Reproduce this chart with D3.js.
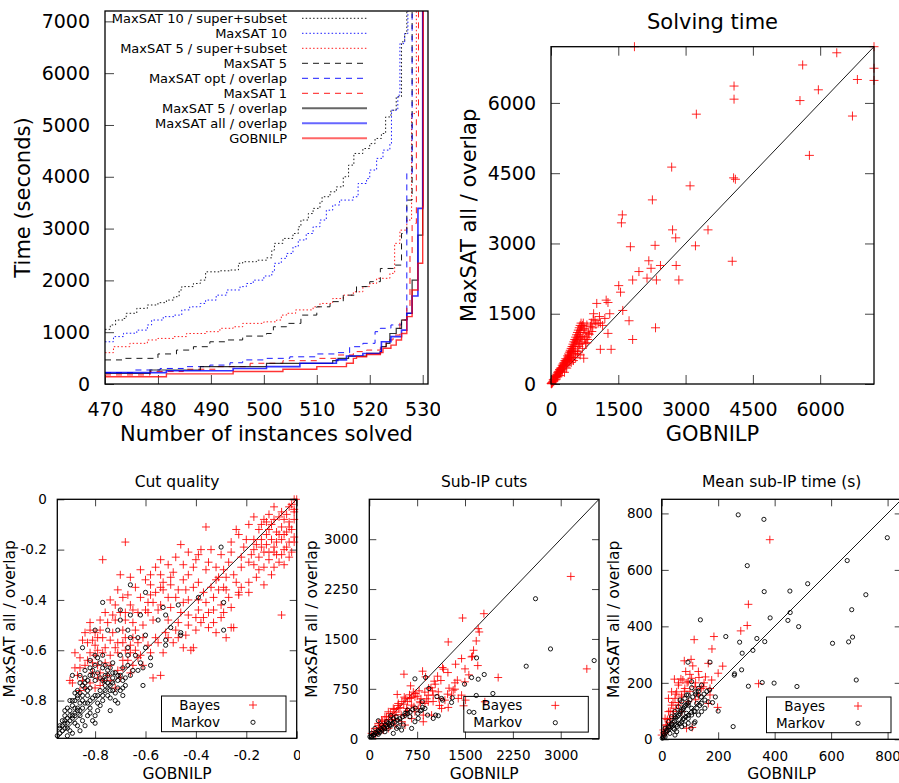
<!DOCTYPE html>
<html><head><meta charset="utf-8">
<script src="https://cdn.jsdelivr.net/npm/d3@7"></script>
<style>
body{margin:0;background:#fff}
svg{font-family:"DejaVu Sans",sans-serif}
</style></head><body>
<svg id="chart" width="899" height="783"></svg>
<script>
// ---- cactus plot: [instances solved, time] ----
var ms10ss = [[470,1055],[471,1140],[472,1235],[473.5,1265],[474,1365],[476,1460],[478,1525],[480,1570],[481.6,1620],[483,1685],[484,1815],[484.5,1880],[486.7,1940],[488,2005],[489,2165],[491.7,2185],[493.6,2200],[495.2,2330],[496,2360],[498.6,2390],[500.5,2435],[501.5,2585],[502,2715],[503.6,2810],[505.5,2905],[506.5,3035],[507,3165],[508.4,3290],[509.3,3390],[510.6,3515],[511,3615],[512.5,3710],[513.7,3805],[515,4000],[516,4225],[517,4450],[518.7,4545],[520,4640],[521,4740],[522.2,4835],[523,5155],[524,5285],[525,5545],[526,6605],[526.6,6765],[527,7200]];
var ms10 = [[470,815],[471.6,915],[473.5,980],[476,1040],[478,1140],[478.8,1235],[481,1300],[483,1330],[484.5,1430],[486,1490],[488,1555],[489,1620],[491,1715],[493,1815],[495.5,1880],[496.7,1940],[498,2005],[500,2085],[501.5,2165],[502,2330],[503.3,2425],[504.3,2520],[505.5,2650],[506.5,2780],[508,2905],[509.3,3035],[510.6,3165],[511.8,3355],[513,3455],[514.3,3550],[516.9,3615],[517.8,3870],[519.4,3965],[520,4130],[521.3,4355],[522.5,4515],[523.8,4640],[524.1,5285],[525.3,5575],[525.7,6570],[526.6,6765],[527.2,7200]];
var ms5ss = [[470,605],[471.6,720],[474.7,785],[478,850],[480,880],[483,915],[485.4,975],[489,1010],[491.7,1075],[494.2,1105],[496,1170],[500,1200],[502.4,1235],[503.3,1330],[504.3,1365],[506,1430],[509.3,1490],[510.6,1555],[513,1650],[515,1715],[516.9,1780],[518.7,1880],[520,1940],[521.3,2040],[523.8,2135],[524.7,2715],[525.7,2970],[527,3165],[527.9,5220],[528.8,7200]];
var ms5 = [[470,465],[473.5,495],[480,580],[483.5,655],[486.7,720],[489.8,815],[492.9,850],[496,925],[500.5,975],[501.8,1105],[504.3,1170],[507,1330],[510,1490],[512.5,1590],[515,1715],[517.5,1880],[520,1975],[522,2230],[524.7,2295],[526,2905],[527,3550],[528,7200]];
var msOpt = [[470,220],[475.3,270],[480.4,300],[484.8,335],[489.8,365],[493.6,410],[496,465],[500.5,495],[504.9,525],[510,580],[513.7,605],[516.2,720],[518.7,785],[521,1010],[522,1075],[524,1140],[526,1235],[527,4065],[528,7200]];
var ms1 = [[470,175],[478.5,240],[484.8,285],[491,335],[497.4,400],[503.6,450],[510,495],[513.7,560],[516.9,625],[519.4,655],[522,720],[523.1,850],[524.4,945],[525.7,1235],[527,1490],[527.6,2520],[528,3100],[528.8,5155],[529.2,7200]];
var ms5ov = [[470,205],[478.5,270],[488,335],[500.5,400],[513,450],[514,495],[516,540],[519.4,590],[522,625],[522.2,720],[523.1,785],[523.8,975],[525,1075],[526,1235],[527,1365],[528,2005],[529.1,2875],[530,7200]];
var msAll = [[470,220],[481.6,255],[494.2,300],[500.5,335],[506.8,400],[513.7,465],[515.6,540],[518.7,590],[522,625],[522.2,815],[524,915],[526,1040],[527,1365],[528,1700],[529.1,3390],[530,7200]];
var gob = [[470,140],[481.6,195],[494.2,240],[503.6,285],[510,335],[515.6,400],[516.9,495],[517.5,525],[519.4,570],[522,605],[522.5,690],[524,750],[525,850],[526,975],[527,1300],[528,1815],[529.1,2330],[530,3420],[530.1,7200]];
var cactusNames = ["MaxSAT 10 / super+subset","MaxSAT 10","MaxSAT 5 / super+subset","MaxSAT 5","MaxSAT opt / overlap","MaxSAT 1","MaxSAT 5 / overlap","MaxSAT all / overlap","GOBNILP"];
var cactusData = [ms10ss, ms10, ms5ss, ms5, msOpt, ms1, ms5ov, msAll, gob];
var cactusXTicks = [470,480,490,500,510,520,530];
var cactusYTicks = [0,1000,2000,3000,4000,5000,6000,7000];

// ---- solving time: [GOBNILP, MaxSAT all / overlap] ----
var solveTime = [[1860,7200],[7200,7200],[6370,7070],[5610,6810],[7200,6740],[4080,6360],[6830,6500],[7200,6480],[4080,6080],[5550,6050],[5960,6280],[3240,5760],[6720,5720],[5760,4880],[2690,4630],[4070,4400],[4110,4370],[3100,4230],[2260,3930],[1590,3610],[1570,3440],[2710,3290],[3500,3290],[2780,3120],[1770,2930],[2320,2960],[3220,2950],[4040,2620],[2180,2630],[1960,2400],[2230,2470],[2440,2530],[2790,2530],[1820,2220],[2140,2260],[2350,2220],[2850,2220],[1510,2100],[1550,1960],[1230,1790],[1270,1740],[1020,1720],[1310,1500],[1600,1570],[950,1500],[1080,1440],[1740,1350],[1050,1300],[1270,1080],[2330,1200],[1820,950],[1100,740],[1340,740],
  [800,1260],[730,1150],[840,1080],[910,1120],[650,1010],[580,940],[770,870],[620,800],[730,550],[500,690],[430,580],[360,480],[280,370],[210,260],[130,160],[60,50],
  [20,30],[40,50],[60,80],[80,110],[100,140],[120,160],[140,200],[160,230],[180,250],[200,290],[220,320],[240,350],[260,380],[280,400],[300,430],[320,470],[340,500],[360,520],[380,560],[400,600],[420,620],[440,680],[460,700],[480,750],[500,800],[520,830],[540,880],[560,920],[580,960],[600,1000],[620,1050],[640,1100],[660,1150],[680,1220],[700,1250],[720,1300],[750,1180],[780,1100],[800,1000],[820,950],[850,1060],[880,1230],[900,1300],[930,1200],[150,150],[250,260],[350,340],[450,460],[550,560],[650,620],[300,250],[200,180],[100,90],[5,10],[10,5],[30,20],[90,150],[170,270],[230,300],[330,420],[410,520],[470,560],[530,650],[590,700],[630,860],[690,900],[710,1020],[670,980],
  [50,90],[70,100],[110,180],[130,210],[150,250],[190,310],[210,340],[250,400],[270,430],[290,460],[310,500],[330,540],[370,600],[390,640],[410,680],[430,720],[450,760],[470,800],[490,850],[510,900],[530,950],[550,1000],[570,1050],[590,1100],[610,1150],[630,1200],[650,1250],[670,1300],[400,430],[500,500],[600,640],[700,760],[800,880],[450,550],[350,400],[250,300],[150,170],[550,700],[650,850],[750,950],[1000,1280],[1100,1300],[1150,1250],[1200,1400],[980,1350],[940,1380]];
var solveTicks = [0,1500,3000,4500,6000];

// ---- cut quality ----
var cutBayes = [[-0.01,0],[0,0],[-0.03,-0.03],[-0.01,-0.04],[-0.09,-0.03],[-0.06,-0.05],[-0.01,-0.05],[-0.11,-0.06],[-0.17,-0.07],[-0.13,-0.08],[-0.09,-0.08],[-0.05,-0.08],[-0.03,-0.09],[-0.01,-0.08],[-0.14,-0.10],[-0.10,-0.10],[-0.06,-0.11],[-0.03,-0.11],[-0.11,-0.12],[-0.08,-0.13],[-0.05,-0.14],[-0.01,-0.15],[-0.17,-0.16],[-0.14,-0.16],[-0.10,-0.16],[-0.06,-0.16],[-0.03,-0.17],[-0.01,-0.17],[-0.12,-0.18],[-0.09,-0.19],[-0.05,-0.20],[-0.17,-0.20],[-0.13,-0.21],[-0.09,-0.21],[-0.06,-0.22],[-0.03,-0.23],[-0.15,-0.23],[-0.11,-0.24],[-0.07,-0.25],[-0.05,-0.26],[-0.09,-0.27],[-0.17,-0.26],[-0.18,-0.22],[-0.21,-0.19],[-0.24,-0.12],[-0.23,-0.14],[-0.36,-0.11],[-0.68,-0.17],[-0.06,-0.46],[-0.13,-0.34],[-0.19,-0.37],[-0.23,-0.37],
  [-0.27,-0.25],[-0.32,-0.27],[-0.30,-0.22],[-0.31,-0.31],[-0.35,-0.25],[-0.39,-0.22],[-0.43,-0.21],[-0.46,-0.18],[-0.48,-0.23],[-0.54,-0.24],[-0.40,-0.24],[-0.38,-0.20],[-0.34,-0.20],[-0.26,-0.21],[-0.22,-0.27],[-0.25,-0.30],[-0.29,-0.35],[-0.34,-0.35],[-0.39,-0.33],[-0.43,-0.30],[-0.45,-0.32],[-0.49,-0.29],[-0.50,-0.34],[-0.53,-0.36],[-0.58,-0.38],[-0.59,-0.41],[-0.60,-0.44],[-0.63,-0.45],[-0.66,-0.42],[-0.69,-0.39],[-0.72,-0.42],[-0.76,-0.45],[-0.77,-0.24],[-0.70,-0.30],[-0.66,-0.31],[-0.62,-0.28],[-0.58,-0.30],[-0.54,-0.30],[-0.58,-0.34],[-0.54,-0.35],[-0.54,-0.42],[-0.51,-0.39],[-0.48,-0.39],[-0.45,-0.41],[-0.43,-0.40],[-0.39,-0.40],[-0.36,-0.41],[-0.33,-0.44],[-0.30,-0.42],[-0.27,-0.39],[-0.23,-0.38],[-0.24,-0.33],[-0.22,-0.35],[-0.19,-0.33],[-0.16,-0.31],[-0.28,-0.36],[-0.40,-0.47],[-0.37,-0.47],[-0.43,-0.46],[-0.47,-0.49],[-0.51,-0.48],[-0.55,-0.44],[-0.59,-0.45],[-0.65,-0.49],[-0.68,-0.48],[-0.70,-0.45],[-0.72,-0.48],[-0.75,-0.49],[-0.78,-0.52],[-0.80,-0.53],[-0.82,-0.52],[-0.84,-0.53],[-0.85,-0.56],[-0.83,-0.57],[-0.81,-0.56],[-0.79,-0.55],[-0.77,-0.55],[-0.74,-0.56],[-0.71,-0.57],[-0.68,-0.55],[-0.65,-0.55],[-0.63,-0.57],[-0.61,-0.55],[-0.56,-0.55],[-0.52,-0.53],[-0.48,-0.52],[-0.44,-0.54],[-0.40,-0.52],[-0.35,-0.51],[-0.32,-0.53],[-0.28,-0.55],[-0.26,-0.51],[-0.25,-0.51],[-0.42,-0.60],[-0.41,-0.59],[-0.45,-0.59],[-0.49,-0.57],[-0.53,-0.61],[-0.58,-0.61],[-0.62,-0.62],[-0.66,-0.61],[-0.68,-0.60],[-0.71,-0.61],[-0.74,-0.62],[-0.77,-0.61],[-0.80,-0.62],[-0.82,-0.61],[-0.86,-0.63],[-0.84,-0.66],[-0.81,-0.65],[-0.79,-0.66],[-0.76,-0.65],[-0.74,-0.66],[-0.71,-0.68],[-0.69,-0.67],[-0.67,-0.64],[-0.66,-0.69],[-0.61,-0.66],[-0.54,-0.70],[-0.57,-0.71],[-0.75,-0.70],[-0.77,-0.72],[-0.79,-0.71],[-0.82,-0.73],[-0.85,-0.72],[-0.87,-0.70],[-0.89,-0.73],[-0.84,-0.75],[-0.80,-0.75],[-0.72,-0.75],[-0.69,-0.64],[-0.78,-0.69],[-0.88,-0.61],
  [-0.02,-0.02],[-0.04,-0.06],[-0.07,-0.07],[-0.12,-0.09],[-0.15,-0.12],[-0.02,-0.12],[-0.07,-0.14],[-0.12,-0.14],[-0.16,-0.18],[-0.04,-0.19],[-0.08,-0.17],[-0.14,-0.19],[-0.11,-0.21],[-0.02,-0.21],[-0.19,-0.25],[-0.13,-0.27],[-0.15,-0.28],[-0.10,-0.30],[-0.08,-0.22],[-0.04,-0.13],[-0.20,-0.16],[-0.19,-0.10],[-0.26,-0.17],[-0.22,-0.23],[-0.29,-0.28],[-0.36,-0.28],[-0.41,-0.27],[-0.45,-0.26],[-0.51,-0.26],[-0.56,-0.27],[-0.60,-0.32],[-0.64,-0.35],[-0.67,-0.38],[-0.71,-0.36],[-0.74,-0.40],[-0.62,-0.39],[-0.56,-0.37],[-0.47,-0.36],[-0.41,-0.35],[-0.37,-0.37],[-0.33,-0.39],[-0.31,-0.36],[-0.26,-0.43],[-0.35,-0.45],[-0.39,-0.44],[-0.46,-0.45],[-0.50,-0.43],[-0.57,-0.48],[-0.61,-0.50],[-0.64,-0.52],[-0.69,-0.52],[-0.73,-0.53],[-0.76,-0.59],[-0.79,-0.60],[-0.83,-0.64],[-0.86,-0.67],[-0.81,-0.69],[-0.74,-0.72],[-0.70,-0.71],[-0.65,-0.66],[-0.63,-0.63],[-0.59,-0.58],[-0.55,-0.57],[-0.51,-0.55],[-0.47,-0.55],[-0.43,-0.50],[-0.38,-0.49],[-0.33,-0.49],[-0.30,-0.47],[-0.29,-0.45],[-0.32,-0.32],[-0.28,-0.31],[-0.44,-0.36],[-0.50,-0.31],[-0.53,-0.33],[-0.57,-0.41],[-0.65,-0.44],[-0.68,-0.45],[-0.73,-0.46],[-0.78,-0.48],[-0.82,-0.49],[-0.80,-0.58],[-0.72,-0.59],[-0.69,-0.57],[-0.66,-0.58],[-0.64,-0.60],[-0.88,-0.67],[-0.90,-0.72],[-0.86,-0.76],[-0.78,-0.74]];
var cutMarkov = [[-0.30,-0.19],[-0.39,-0.39],[-0.29,-0.41],[-0.29,-0.52],[-0.66,-0.34],[-0.60,-0.37],[-0.77,-0.41],[-0.70,-0.44],[-0.66,-0.46],[-0.70,-0.48],[-0.62,-0.46],[-0.55,-0.48],[-0.53,-0.43],[-0.52,-0.46],[-0.47,-0.42],[-0.50,-0.51],[-0.60,-0.54],[-0.66,-0.55],[-0.63,-0.55],[-0.46,-0.53],[-0.46,-0.54],[-0.52,-0.56],[-0.52,-0.58],[-0.60,-0.59],[-0.58,-0.63],[-0.62,-0.65],[-0.61,-0.67],[-0.58,-0.66],[-0.61,-0.74],[-0.67,-0.59],[-0.67,-0.62],[-0.74,-0.67],[-0.73,-0.65],[-0.85,-0.59],[-0.80,-0.62],[-0.80,-0.52],[-0.75,-0.52],[-0.71,-0.52],[-0.67,-0.52],[-0.77,-0.62],[-0.78,-0.65],[-0.82,-0.67],[-0.75,-0.70],[-0.71,-0.70],[-0.69,-0.67],[-0.68,-0.74],[-0.69,-0.78],[-0.72,-0.80],[-0.74,-0.84],[-0.80,-0.89],[-0.82,-0.85],[-0.78,-0.82],[-0.75,-0.78],[-0.79,-0.78],[-0.82,-0.75],[-0.84,-0.75],[-0.87,-0.76],[-0.89,-0.70],[-0.89,-0.80],[-0.91,-0.83],[-0.92,-0.86],[-0.93,-0.88],[-0.94,-0.91],[-0.92,-0.91],[-0.90,-0.88],[-0.88,-0.86],[-0.87,-0.83],[-0.86,-0.81],[-0.83,-0.78],[-0.80,-0.72],[-0.77,-0.72],[-0.73,-0.73],[-0.71,-0.72],[-0.76,-0.70],[-0.81,-0.70],[-0.84,-0.81],[-0.86,-0.84],[-0.88,-0.89],[-0.90,-0.92],[-0.91,-0.89],[-0.89,-0.86],[-0.87,-0.79],[-0.85,-0.78],[-0.83,-0.81],[-0.81,-0.79],[-0.79,-0.81],[-0.77,-0.78],[-0.74,-0.76],[-0.71,-0.75],[-0.69,-0.75],[-0.72,-0.69],[-0.83,-0.86],[-0.86,-0.86],[-0.88,-0.83],[-0.90,-0.86],[-0.92,-0.88],[-0.94,-0.93],[-0.93,-0.90],[-0.86,-0.73],[-0.84,-0.71],[-0.73,-0.71],[-0.70,-0.62],[-0.76,-0.66],[-0.80,-0.66],[-0.78,-0.76],[-0.76,-0.74],[-0.82,-0.83],[-0.80,-0.86],[-0.85,-0.88],[-0.87,-0.90],
  [-0.93,-0.92],[-0.92,-0.89],[-0.91,-0.87],[-0.90,-0.84],[-0.89,-0.82],[-0.88,-0.80],[-0.87,-0.78],[-0.86,-0.77],[-0.85,-0.74],[-0.84,-0.73],[-0.83,-0.72],[-0.82,-0.70],[-0.81,-0.68],[-0.79,-0.69],[-0.78,-0.71],[-0.76,-0.72],[-0.75,-0.73],[-0.74,-0.74],[-0.73,-0.76],[-0.72,-0.77],[-0.83,-0.76],[-0.85,-0.80],[-0.87,-0.84],[-0.89,-0.87],[-0.91,-0.91],[-0.94,-0.90],[-0.92,-0.84],[-0.90,-0.80],[-0.88,-0.77],[-0.86,-0.70],[-0.84,-0.68],[-0.82,-0.64],[-0.79,-0.63],[-0.77,-0.67],[-0.75,-0.68],[-0.73,-0.69],[-0.70,-0.70],[-0.68,-0.71],[-0.66,-0.70],[-0.65,-0.68],[-0.70,-0.76],[-0.77,-0.80],[-0.79,-0.84],[-0.81,-0.88],[-0.84,-0.90],[-0.86,-0.92],[-0.89,-0.93],[-0.91,-0.94],[-0.95,-0.94],[-0.80,-0.78],[-0.82,-0.80],[-0.85,-0.83],[-0.88,-0.85],[-0.76,-0.76],[-0.74,-0.79],[-0.71,-0.81],[-0.69,-0.72],[-0.67,-0.66],[-0.63,-0.68],[-0.64,-0.62]];
var cutTicks = [-0.8,-0.6,-0.4,-0.2,0];

// ---- sub-IP cuts ----
var cutsBayes = [[3158,2440],[3409,1050],[1796,1880],[1462,1815],[1707,1655],[1723,1605],[1237,1455],[1676,1470],[1634,1330],[1618,1240],[1446,1205],[1352,1120],[1148,1070],[1164,1045],[1232,995],[543,970],[835,1015],[882,930],[647,795],[1070,940],[1122,875],[1018,865],[1034,820],[966,765],[2020,920],[1342,840],[1342,745],[1498,855],[1446,655],[1603,1230],[1509,580],[1477,495],[1237,470],[1185,580],[1289,655],[1091,605],[1002,655],[924,555],[793,555],[715,630],[637,605],[438,665],[548,625],[376,455],[454,530],[585,455],[715,405],[846,355],[976,355],[559,355],[402,355],[298,405],[245,330],[193,280],[141,230],[89,155],[350,280],[506,255],[663,305],[846,255],[454,455],[663,505],[767,455],[872,530],[924,655],[1081,705],[1227,670],[1133,455],[1315,730],[1394,605],[245,205],[402,205],[559,205],[167,155],[298,155],[37,80],[115,105],[219,130],[1811,555],
  [60,60],[120,110],[180,170],[240,230],[300,290],[360,350],[420,400],[480,470],[540,520],[600,560],[660,620],[720,680],[780,720],[150,200],[210,260],[270,330],[330,380],[390,440],[450,500],[510,560],[570,600],[630,660],[690,700],[750,640],[810,600],[870,700],[930,760],[990,720],[100,60],[200,140],[300,210],[400,290],[500,360],[600,420],[700,480],[800,540],[900,600],[1000,560],[1100,500],[1250,760],[1380,880],[1560,960],[1700,1100],[1500,1050]];
var cutsMarkov = [[2605,2105],[2840,1350],[3524,1175],[2459,1090],[1681,1215],[1801,965],[1603,920],[1707,895],[1937,680],[1676,650],[1493,820],[1566,405],[1639,395],[715,900],[882,920],[934,755],[1060,635],[1133,605],[1300,615],[1289,545],[1148,580],[830,555],[835,470],[820,430],[914,355],[1002,305],[1039,355],[1081,345],[600,430],[559,380],[637,330],[532,205],[480,255],[339,345],[271,255],[141,270],[193,205],[89,155],[37,80],[350,205],[428,155],[245,105],[141,65],[298,155],[454,180],[715,255],[767,305],[872,455],[10,30],[63,55],[167,95],[376,80],[506,130],[663,155],
  [40,30],[80,60],[120,80],[160,110],[200,130],[240,150],[280,180],[320,200],[360,230],[400,250],[440,280],[480,300],[520,330],[560,350],[600,380],[640,400],[680,440],[720,460],[760,380],[800,420],[60,50],[100,90],[140,120],[180,150],[220,170],[260,210],[300,230],[340,270],[380,300],[420,330]];
var cutsTicks = [0,750,1500,2250,3000];

// ---- mean sub-IP time ----
var timeBayes = [[383,707],[307,478],[303,403],[280,384],[115,353],[185,364],[178,320],[80,278],[104,283],[165,269],[216,259],[200,234],[343,197],[198,113],[68,214],[45,213],[106,216],[132,219],[155,221],[177,210],[171,157],[171,180],[165,127],[108,42],[94,204],[59,192],[35,168],[24,145],[47,145],[71,157],[59,121],[35,121],[24,98],[12,74],[41,98],[82,180],[53,168],[29,74],[18,51],[6,33],[0,15],[94,133],[130,157],[147,186],[118,186],[71,98],[88,39],
  [10,20],[20,40],[30,60],[40,80],[50,110],[60,130],[70,150],[80,170],[90,200],[100,230],[110,260],[120,200],[130,240],[140,180],[150,200],[60,200],[50,160],[40,130],[30,100],[20,70],[15,50],[8,25],[100,170],[120,140],[85,240],[75,210]];
var timeMarkov = [[271,795],[362,779],[799,714],[303,615],[657,633],[517,551],[723,512],[363,523],[454,525],[455,449],[673,459],[384,430],[447,421],[485,399],[137,423],[227,364],[337,357],[276,344],[365,346],[323,315],[285,305],[605,340],[662,345],[676,362],[171,273],[93,273],[258,232],[257,227],[283,246],[356,201],[398,199],[307,188],[479,187],[689,210],[253,45],[130,157],[141,192],[106,183],[118,168],[94,157],[82,145],[71,133],[59,115],[47,98],[35,80],[24,62],[12,39],[6,21],[153,139],[165,133],[124,127],[106,110],[88,92],[77,74],[59,57],[41,39],[29,21],[141,98],[118,62],[94,57],[71,45],[53,27],[106,204],[130,180],[141,127],[94,121],[77,110],[65,98],[47,80],[35,51],[18,33],[24,45],[82,51],[106,86],[130,86],[94,74],[71,62],[53,51],[47,15],[12,9],[2,4],[153,110],[118,98],[65,139],[88,157],[115,57],[104,39],
  [5,8],[10,15],[15,25],[20,30],[25,40],[30,45],[35,55],[40,60],[45,65],[50,75],[55,80],[60,85],[65,90],[70,100],[75,105],[80,115],[85,120],[90,125],[95,130],[100,140],[110,150],[120,160],[130,170],[140,150],[150,160],[160,170],[170,175],[180,130],[200,100],[190,150],[45,35],[55,45],[65,55],[75,70],[85,80],[95,85],[105,95],[115,100],[125,110],[135,120]];
var timeTicks = [0,200,400,600,800];

var svg = d3.select("#chart");
var tickCol = "#444";

function styleAxis(sel, size) {
  sel.select(".domain").remove();
  sel.selectAll(".tick line").attr("stroke", tickCol);
  sel.attr("font-family", null).attr("font-size", size);
  sel.selectAll("text").attr("fill", "#000");
}

// cactus line styles (kept apart from the data)
var cactusStyle = [
  {c: "#000", d: "1.5,2.2", w: 1},
  {c: "#00f", d: "1.5,2.2", w: 1},
  {c: "#f00", d: "1.5,2.2", w: 1},
  {c: "#000", d: "6,5", w: 1},
  {c: "#00f", d: "6,5", w: 1},
  {c: "#f00", d: "6,5", w: 1},
  {c: "#000", d: null, w: 1.2},
  {c: "#00f", d: null, w: 1.6},
  {c: "#f00", d: null, w: 1.4}
];

// ---------- panel 1: cactus ----------
(function() {
  var L = 105, R = 428, T = 11, B = 384;
  var x = d3.scaleLinear().domain([470, 531]).range([L, R]);
  var y = d3.scaleLinear().domain([0, 7200]).range([B, T]);
  var g = svg.append("g");

  g.append("g").attr("transform", "translate(0," + B + ")")
    .call(d3.axisBottom(x).tickValues(cactusXTicks).tickSize(-9).tickPadding(19).tickFormat(d3.format("d")))
    .call(styleAxis, 19);
  g.append("g").attr("transform", "translate(" + L + ",0)")
    .call(d3.axisLeft(y).tickValues(cactusYTicks).tickSize(-9).tickPadding(15).tickFormat(d3.format("d")))
    .call(styleAxis, 19);

  var line = d3.line().curve(d3.curveStepAfter)
    .x(function(d) { return x(d[0]); })
    .y(function(d) { return y(d[1]); });

  cactusData.forEach(function(s, i) {
    var st = cactusStyle[i];
    g.append("path").datum(s).attr("d", line)
      .attr("fill", "none").attr("stroke", st.c).attr("stroke-width", st.w)
      .attr("stroke-opacity", st.d ? 0.9 : 0.8)
      .attr("stroke-dasharray", st.d);
  });

  // legend
  var lg = g.append("g").attr("font-size", 13);
  cactusNames.forEach(function(n, i) {
    var st = cactusStyle[i], yy = 18.3 + i * 15;
    lg.append("text").attr("x", 287).attr("y", yy).attr("dy", "0.35em")
      .attr("text-anchor", "end").text(n);
    lg.append("line").attr("x1", 302).attr("x2", 367).attr("y1", yy).attr("y2", yy)
      .attr("stroke", st.c).attr("stroke-width", st.d ? 1 : 2)
      .attr("stroke-opacity", st.d ? 0.9 : 0.6)
      .attr("stroke-dasharray", st.d);
  });

  g.append("rect").attr("x", L).attr("y", T).attr("width", R - L).attr("height", B - T)
    .attr("fill", "none").attr("stroke", "#000").attr("stroke-width", 1.3);

  g.append("text").attr("transform", "translate(23," + (T + B) / 2 + ") rotate(-90)")
    .attr("dy", "0.35em").attr("text-anchor", "middle").attr("font-size", 21)
    .text("Time (seconds)");
  g.append("text").attr("x", (L + R) / 2).attr("y", 441).attr("text-anchor", "middle")
    .attr("font-size", 21).text("Number of instances solved");
})();

// ---------- scatter panels ----------
function scatter(o) {
  svg.append("rect").attr("x", o.bg[0]).attr("y", o.bg[1]).attr("width", o.bg[2]).attr("height", o.bg[3])
    .attr("fill", "#fff");
  var x = d3.scaleLinear().domain(o.domain).range([o.L, o.R]);
  var y = d3.scaleLinear().domain(o.domain).range([o.B, o.T]);
  var g = svg.append("g");
  var fmt = o.fmt || function(d) { return String(d); };

  g.append("g").attr("transform", "translate(0," + o.B + ")")
    .call(d3.axisBottom(x).tickValues(o.ticks).tickSize(-o.tl).tickPadding(o.padX).tickFormat(fmt))
    .call(styleAxis, o.tf);
  g.append("g").attr("transform", "translate(" + o.L + ",0)")
    .call(d3.axisLeft(y).tickValues(o.ticks).tickSize(-o.tl).tickPadding(o.padY).tickFormat(fmt))
    .call(styleAxis, o.tf);
  g.append("g").attr("transform", "translate(0," + o.T + ")")
    .call(d3.axisTop(x).tickValues(o.ticks).tickSize(-o.tl).tickFormat(""))
    .call(styleAxis, o.tf);
  g.append("g").attr("transform", "translate(" + o.R + ",0)")
    .call(d3.axisRight(y).tickValues(o.ticks).tickSize(-o.tl).tickFormat(""))
    .call(styleAxis, o.tf);

  g.append("line")
    .attr("x1", x(o.domain[0])).attr("y1", y(o.domain[0]))
    .attr("x2", x(o.domain[1])).attr("y2", y(o.domain[1]))
    .attr("stroke", "#000").attr("stroke-width", 0.9);

  var s = o.ps;
  function plus(sel) {
    sel.attr("d", "M" + (-s) + ",0H" + s + "M0," + (-s) + "V" + s)
      .attr("stroke", "#f00").attr("stroke-width", 1).attr("stroke-opacity", 0.85).attr("fill", "none");
  }
  function ring(sel) {
    sel.attr("d", d3.symbol(d3.symbolCircle, Math.PI * o.cr * o.cr)())
      .attr("stroke", "#000").attr("stroke-width", 0.9).attr("fill", "none");
  }

  if (o.bayes) {
    g.append("g").selectAll("path").data(o.bayes).join("path")
      .attr("transform", function(d) { return "translate(" + x(d[0]) + "," + y(d[1]) + ")"; })
      .call(plus);
  }
  if (o.markov) {
    g.append("g").selectAll("path").data(o.markov).join("path")
      .attr("transform", function(d) { return "translate(" + x(d[0]) + "," + y(d[1]) + ")"; })
      .call(ring);
  }

  if (o.legend) {
    var bx = o.R - 10.7, by = o.B - 6.6;
    var lg = g.append("g").attr("font-size", 13.5);
    lg.append("rect").attr("x", bx - 124.5).attr("y", by - 35.7).attr("width", 124.5).attr("height", 35.7)
      .attr("fill", "none").attr("stroke", "#000").attr("stroke-width", 1);
    ["Bayes", "Markov"].forEach(function(n, i) {
      var yy = by - 26.7 + i * 17.3;
      lg.append("text").attr("x", bx - 66).attr("y", yy).attr("dy", "0.35em")
        .attr("text-anchor", "end").text(n);
      lg.append("path").attr("transform", "translate(" + (bx - 33) + "," + yy + ")")
        .call(i === 0 ? plus : ring);
    });
  }

  g.append("rect").attr("x", o.L).attr("y", o.T).attr("width", o.R - o.L).attr("height", o.B - o.T)
    .attr("fill", "none").attr("stroke", "#000").attr("stroke-width", 1.3);

  g.append("text").attr("x", (o.L + o.R) / 2).attr("y", o.titleY).attr("text-anchor", "middle")
    .attr("font-size", o.lf).text(o.title);
  g.append("text").attr("x", (o.L + o.R) / 2).attr("y", o.xlabY).attr("text-anchor", "middle")
    .attr("font-size", o.lf).text(o.xlab);
  g.append("text").attr("transform", "translate(" + o.ylabX + "," + (o.T + o.B) / 2 + ") rotate(-90)")
    .attr("dy", "0.35em").attr("text-anchor", "middle").attr("font-size", o.lf).text(o.ylab);
}

var hyphen = function(d) { return d === 0 ? "0" : d.toFixed(1); };

scatter({
  bg: [440, 0, 459, 455], L: 551, R: 874, T: 46.7, B: 384, domain: [0, 7200], ticks: solveTicks,
  tl: 9, padX: 19, padY: 15, tf: 19, lf: 21, ps: 4.5, cr: 2.5,
  bayes: solveTime, title: "Solving time", titleY: 29, xlab: "GOBNILP", xlabY: 441,
  ylab: "MaxSAT all / overlap", ylabX: 469
});

scatter({
  bg: [0, 455, 300, 328], L: 57.3, R: 296.7, T: 499.3, B: 738.3, domain: [-0.95, 0], ticks: cutTicks,
  tl: 7, padX: 12, padY: 10.5, tf: 13.5, lf: 15.5, ps: 4, cr: 2.1, fmt: hyphen,
  bayes: cutBayes, markov: cutMarkov, legend: true,
  title: "Cut quality", titleY: 487, xlab: "GOBNILP", xlabY: 779,
  ylab: "MaxSAT all / overlap", ylabX: 10
});

scatter({
  bg: [300, 455, 300, 328], L: 369.3, R: 599, T: 499.3, B: 738.7, domain: [0, 3600], ticks: cutsTicks,
  tl: 7, padX: 12, padY: 11, tf: 13.5, lf: 15.5, ps: 4, cr: 2.1,
  bayes: cutsBayes, markov: cutsMarkov, legend: true,
  title: "Sub-IP cuts", titleY: 487, xlab: "GOBNILP", xlabY: 779,
  ylab: "MaxSAT all / overlap", ylabX: 312
});

scatter({
  bg: [600, 455, 299, 328], L: 661.7, R: 901.7, T: 499.3, B: 739.3, domain: [0, 850], ticks: timeTicks,
  tl: 7, padX: 12, padY: 9, tf: 13.5, lf: 15.5, ps: 4, cr: 2.1,
  bayes: timeBayes, markov: timeMarkov, legend: true,
  title: "Mean sub-IP time (s)", titleY: 487, xlab: "GOBNILP", xlabY: 779,
  ylab: "MaxSAT all / overlap", ylabX: 614
});
</script></body></html>
